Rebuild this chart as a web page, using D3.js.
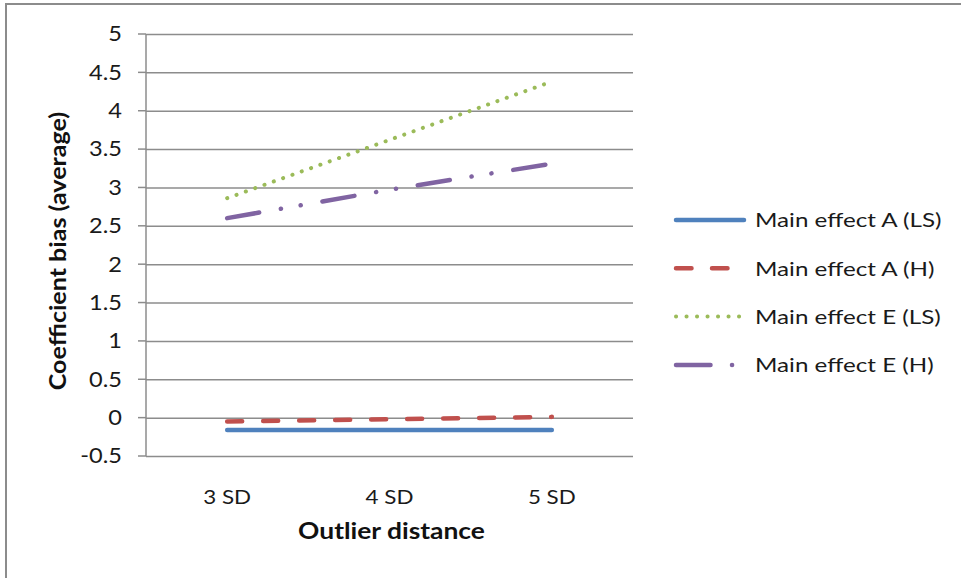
<!DOCTYPE html>
<html><head><meta charset="utf-8">
<script src="https://cdn.jsdelivr.net/npm/d3@7"></script>
<style>body{margin:0;background:#fff}svg{display:block}</style>
</head><body>
<svg id="c" width="961" height="578"></svg>
<script>
const categories = ["3 SD", "4 SD", "5 SD"];
const yTicks = [-0.5, 0, 0.5, 1, 1.5, 2, 2.5, 3, 3.5, 4, 4.5, 5];
const seriesNames = ["Main effect A (LS)", "Main effect A (H)", "Main effect E (LS)", "Main effect E (H)"];
const mainA_LS = [-0.16, -0.16, -0.16];
const mainA_H = [-0.05, -0.02, 0.01];
const mainE_LS = [2.86, 3.62, 4.38];
const mainE_H = [2.60, 2.97, 3.31];

const series = [
  {name: seriesNames[0], values: mainA_LS, color: "#4F81BD", dash: null, ldash: null, w: 4.5},
  {name: seriesNames[1], values: mainA_H, color: "#C0504D", dash: "15,21", ldash: "15.5,20.5", w: 4.5},
  {name: seriesNames[2], values: mainE_LS, color: "#9BBB59", dash: "0.1,9.8", ldash: "0.1,10.4", w: 4},
  {name: seriesNames[3], values: mainE_H, color: "#8064A2", dash: "32.5,22,0.1,20,0.1,22", ldash: "34.5,21.5,0.1,100", w: 4.5}
];

const svg = d3.select("#c");
const font = "Lato, 'Open Sans', sans-serif";
// outer border
svg.append("rect").attr("x", 6).attr("y", 4).attr("width", 1000).attr("height", 700)
  .attr("fill", "none").attr("stroke", "#8c8c8c").attr("stroke-width", 2);

const L = 146, R = 633, T = 34, B = 456;
const x = d3.scaleBand().domain(categories).range([L, R]);
const y = d3.scaleLinear().domain([-0.5, 5]).range([B, T]);

// gridlines
const gy = svg.append("g").attr("transform", `translate(${L},0)`)
  .call(d3.axisLeft(y).tickValues(yTicks).tickSize(-(R - L)).tickFormat(""));
gy.select(".domain").remove();
gy.selectAll(".tick line").attr("stroke", "#8c8c8c").attr("stroke-width", 1.5);
// tick stubs
svg.append("g").selectAll("line").data(yTicks).join("line")
  .attr("x1", L - 8).attr("x2", L).attr("y1", d => y(d)).attr("y2", d => y(d))
  .attr("stroke", "#8c8c8c").attr("stroke-width", 1.5);
// y axis line
svg.append("line").attr("x1", L).attr("x2", L).attr("y1", T).attr("y2", B)
  .attr("stroke", "#8c8c8c").attr("stroke-width", 1.5);
// y tick labels
svg.append("g").selectAll("text").data(yTicks).join("text")
  .attr("transform", d => `translate(122,${y(d)}) scale(1.15,1)`).attr("dy", "0.36em")
  .attr("text-anchor", "end").attr("font-family", font).attr("font-size", 20.5)
  .attr("fill", "#1a1a1a").text(d => d);
// x labels
svg.append("g").selectAll("text").data(categories).join("text")
  .attr("transform", d => `translate(${x(d) + x.bandwidth() / 2},504) scale(1.12,1)`)
  .attr("text-anchor", "middle").attr("font-family", font).attr("font-size", 20)
  .attr("fill", "#1a1a1a").text(d => d);
// axis titles
svg.append("text").attr("transform", `translate(${(L + R) / 2 + 2},539) scale(1.2,1)`).attr("text-anchor", "middle")
  .attr("font-family", font).attr("font-size", 22).attr("font-weight", "bold").attr("fill", "#111")
  .text("Outlier distance");
svg.append("text").attr("transform", `translate(66,${(T + B) / 2 + 6}) rotate(-90) scale(1.14,1)`)
  .attr("text-anchor", "middle").attr("font-family", font).attr("font-size", 22)
  .attr("font-weight", "bold").attr("fill", "#111").text("Coefficient bias (average)");

// lines
const line = d3.line().x((d, i) => x(categories[i]) + x.bandwidth() / 2).y(d => y(d));
svg.append("g").selectAll("path").data(series).join("path")
  .attr("d", d => line(d.values)).attr("fill", "none")
  .attr("stroke", d => d.color).attr("stroke-width", d => d.w)
  .attr("stroke-linecap", "round")
  .attr("stroke-dasharray", d => d.dash);

// legend
const lg = svg.append("g").selectAll("g").data(series).join("g")
  .attr("transform", (d, i) => `translate(0,${220 + i * 48.3})`);
lg.append("line").attr("x1", 676).attr("x2", 744).attr("y1", 0).attr("y2", 0)
  .attr("stroke", d => d.color).attr("stroke-width", d => d.w)
  .attr("stroke-linecap", "round")
  .attr("stroke-dasharray", d => d.ldash);
lg.append("text").attr("transform", "translate(755,0) scale(1.21,1)").attr("dy", "0.36em")
  .attr("font-family", font).attr("font-size", 20).attr("fill", "#1a1a1a").text(d => d.name);
</script>
</body></html>
